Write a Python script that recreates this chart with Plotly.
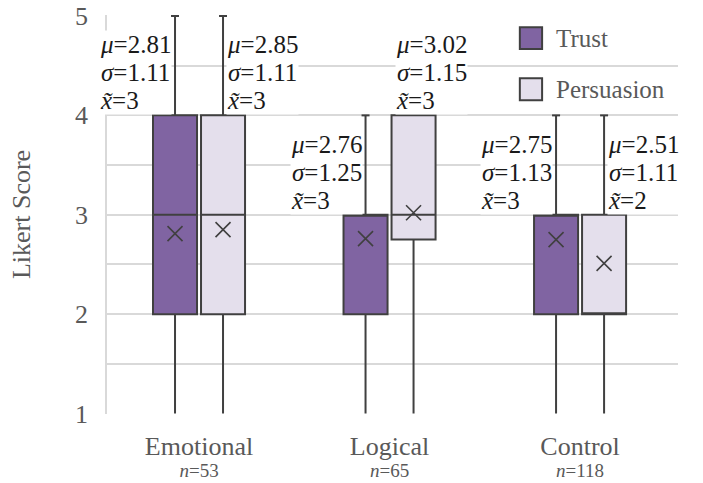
import plotly.graph_objects as go

# ---- data -------------------------------------------------------------
categories = ["Emotional", "Logical", "Control"]
group_sizes = [53, 65, 118]
series_names = ["Trust", "Persuasion"]

trust_min = [1, 1, 1]
trust_q1 = [2, 2, 2]
trust_median = [3, 3, 3]
trust_q3 = [4, 3, 3]
trust_max = [5, 4, 4]
trust_mean = [2.81, 2.76, 2.75]
trust_sd = [1.11, 1.25, 1.13]

pers_min = [1, 1, 1]
pers_q1 = [2, 2.75, 2]
pers_median = [3, 3, 2]
pers_q3 = [4, 4, 3]
pers_max = [5, 4, 4]
pers_mean = [2.85, 3.02, 2.51]
pers_sd = [1.11, 1.15, 1.11]

y_ticks = [1, 2, 3, 4, 5]

# ---- styling ----------------------------------------------------------
FONT = "Liberation Serif"
EDGE = "#404040"
GRID = "#d9d9d9"
LABEL = "#595959"
FILLS = ["#8064a2", "#e4dfec"]
BOXGAP = 0.496
BOXGROUPGAP = 0.083
CAP_HALF = 0.021


def span(text, size):
    return (f"<span style='font-family:{FONT};font-size:{size}px'>"
            f"{text}</span>")


positions = list(range(len(categories)))
series = [
    dict(name=series_names[0], lo=trust_min, q1=trust_q1, med=trust_median,
         q3=trust_q3, hi=trust_max, mean=trust_mean, sd=trust_sd),
    dict(name=series_names[1], lo=pers_min, q1=pers_q1, med=pers_median,
         q3=pers_q3, hi=pers_max, mean=pers_mean, sd=pers_sd),
]
n_series = len(series)

fig = go.Figure()
annotations = []

for k, s in enumerate(series):
    # offset of this series' box inside its group (same rule plotly uses)
    shift = (1 - BOXGAP) * (-0.5 + (k + 0.5) / n_series)
    centers = [p + shift for p in positions]

    fig.add_trace(go.Box(
        x=positions, q1=s["q1"], median=s["med"], q3=s["q3"],
        lowerfence=s["lo"], upperfence=s["hi"],
        name=s["name"], fillcolor=FILLS[k],
        line=dict(color=EDGE, width=2), whiskerwidth=0,
        boxpoints=False, showlegend=False,
    ))

    # caps on the upper whiskers
    cx, cy = [], []
    for c, hi, q3 in zip(centers, s["hi"], s["q3"]):
        if hi > q3:
            cx += [c - CAP_HALF, c + CAP_HALF, None]
            cy += [hi, hi, None]
    fig.add_trace(go.Scatter(x=cx, y=cy, mode="lines",
                             line=dict(color=EDGE, width=2),
                             showlegend=False, hoverinfo="skip"))

    # mean markers
    fig.add_trace(go.Scatter(
        x=centers, y=s["mean"], mode="markers",
        marker=dict(symbol="x-thin", size=15,
                    line=dict(color=EDGE, width=1.6)),
        showlegend=False, name=s["name"] + " mean",
    ))

    # summary statistics above each box
    for c, q3, hi, m, sd, md in zip(centers, s["q3"], s["hi"],
                                    s["mean"], s["sd"], s["med"]):
        lines = [f"<i>μ</i>={m:.2f}", f"<i>σ</i>={sd:.2f}", f"<i>x̃</i>={md:g}"]
        text = "<br>".join(span(t, 25) for t in lines)
        if k == 0:
            xanchor, xshift = "right", -3
        elif hi > q3:
            xanchor, xshift = "left", 3
        else:
            xanchor, xshift = "left", -19
        annotations.append(dict(
            x=c, y=q3, xref="x", yref="y", text=text, showarrow=False,
            xanchor=xanchor, yanchor="bottom", xshift=xshift, yshift=0,
            align="left", bgcolor="white", borderpad=0,
            font=dict(family=FONT, size=21.5, color="#1a1a1a"),
        ))

# hand-drawn legend in the upper right corner
legend_y = [0.942, 0.814]
shapes = []
for k, name in enumerate(series_names):
    yc = legend_y[k]
    shapes.append(dict(type="rect", xref="paper", yref="paper",
                       x0=0.723, x1=0.762, y0=yc - 0.0275, y1=yc + 0.0275,
                       fillcolor=FILLS[k], line=dict(color=EDGE, width=2)))
    annotations.append(dict(x=0.782, y=yc, xref="paper", yref="paper",
                            text=name, showarrow=False, xanchor="left",
                            yanchor="middle",
                            font=dict(family=FONT, size=25, color=LABEL)))

tick_text = [span(c, 26) + "<br>" + span(f"<i>n</i>={n}", 19)
             for c, n in zip(categories, group_sizes)]

fig.update_layout(
    width=703, height=483,
    margin=dict(l=107, r=25, t=15, b=69),
    paper_bgcolor="white", plot_bgcolor="white",
    boxmode="group", boxgap=BOXGAP, boxgroupgap=BOXGROUPGAP,
    showlegend=False,
    font=dict(family=FONT, color=LABEL),
    shapes=shapes, annotations=annotations,
    xaxis=dict(range=[-0.483, 2.514], tickvals=positions, ticktext=tick_text,
               tickfont=dict(family=FONT, size=17, color=LABEL),
               showgrid=False, zeroline=False, showline=False, ticks="",
               ticklabelstandoff=23, automargin=False),
    yaxis=dict(range=[0.995, 5.01], tickvals=y_ticks,
               tickfont=dict(family=FONT, size=26, color=LABEL),
               showgrid=True, gridcolor=GRID, gridwidth=1.5,
               minor=dict(dtick=0.5, showgrid=True, gridcolor=GRID, gridwidth=1.5),
               zeroline=False, showline=True, linecolor=GRID, linewidth=1.5,
               ticks="", ticklabelstandoff=12, automargin=False,
               title=dict(text="Likert Score", standoff=37,
                          font=dict(family=FONT, size=26, color=LABEL))),
)

fig.write_html("out.html")
